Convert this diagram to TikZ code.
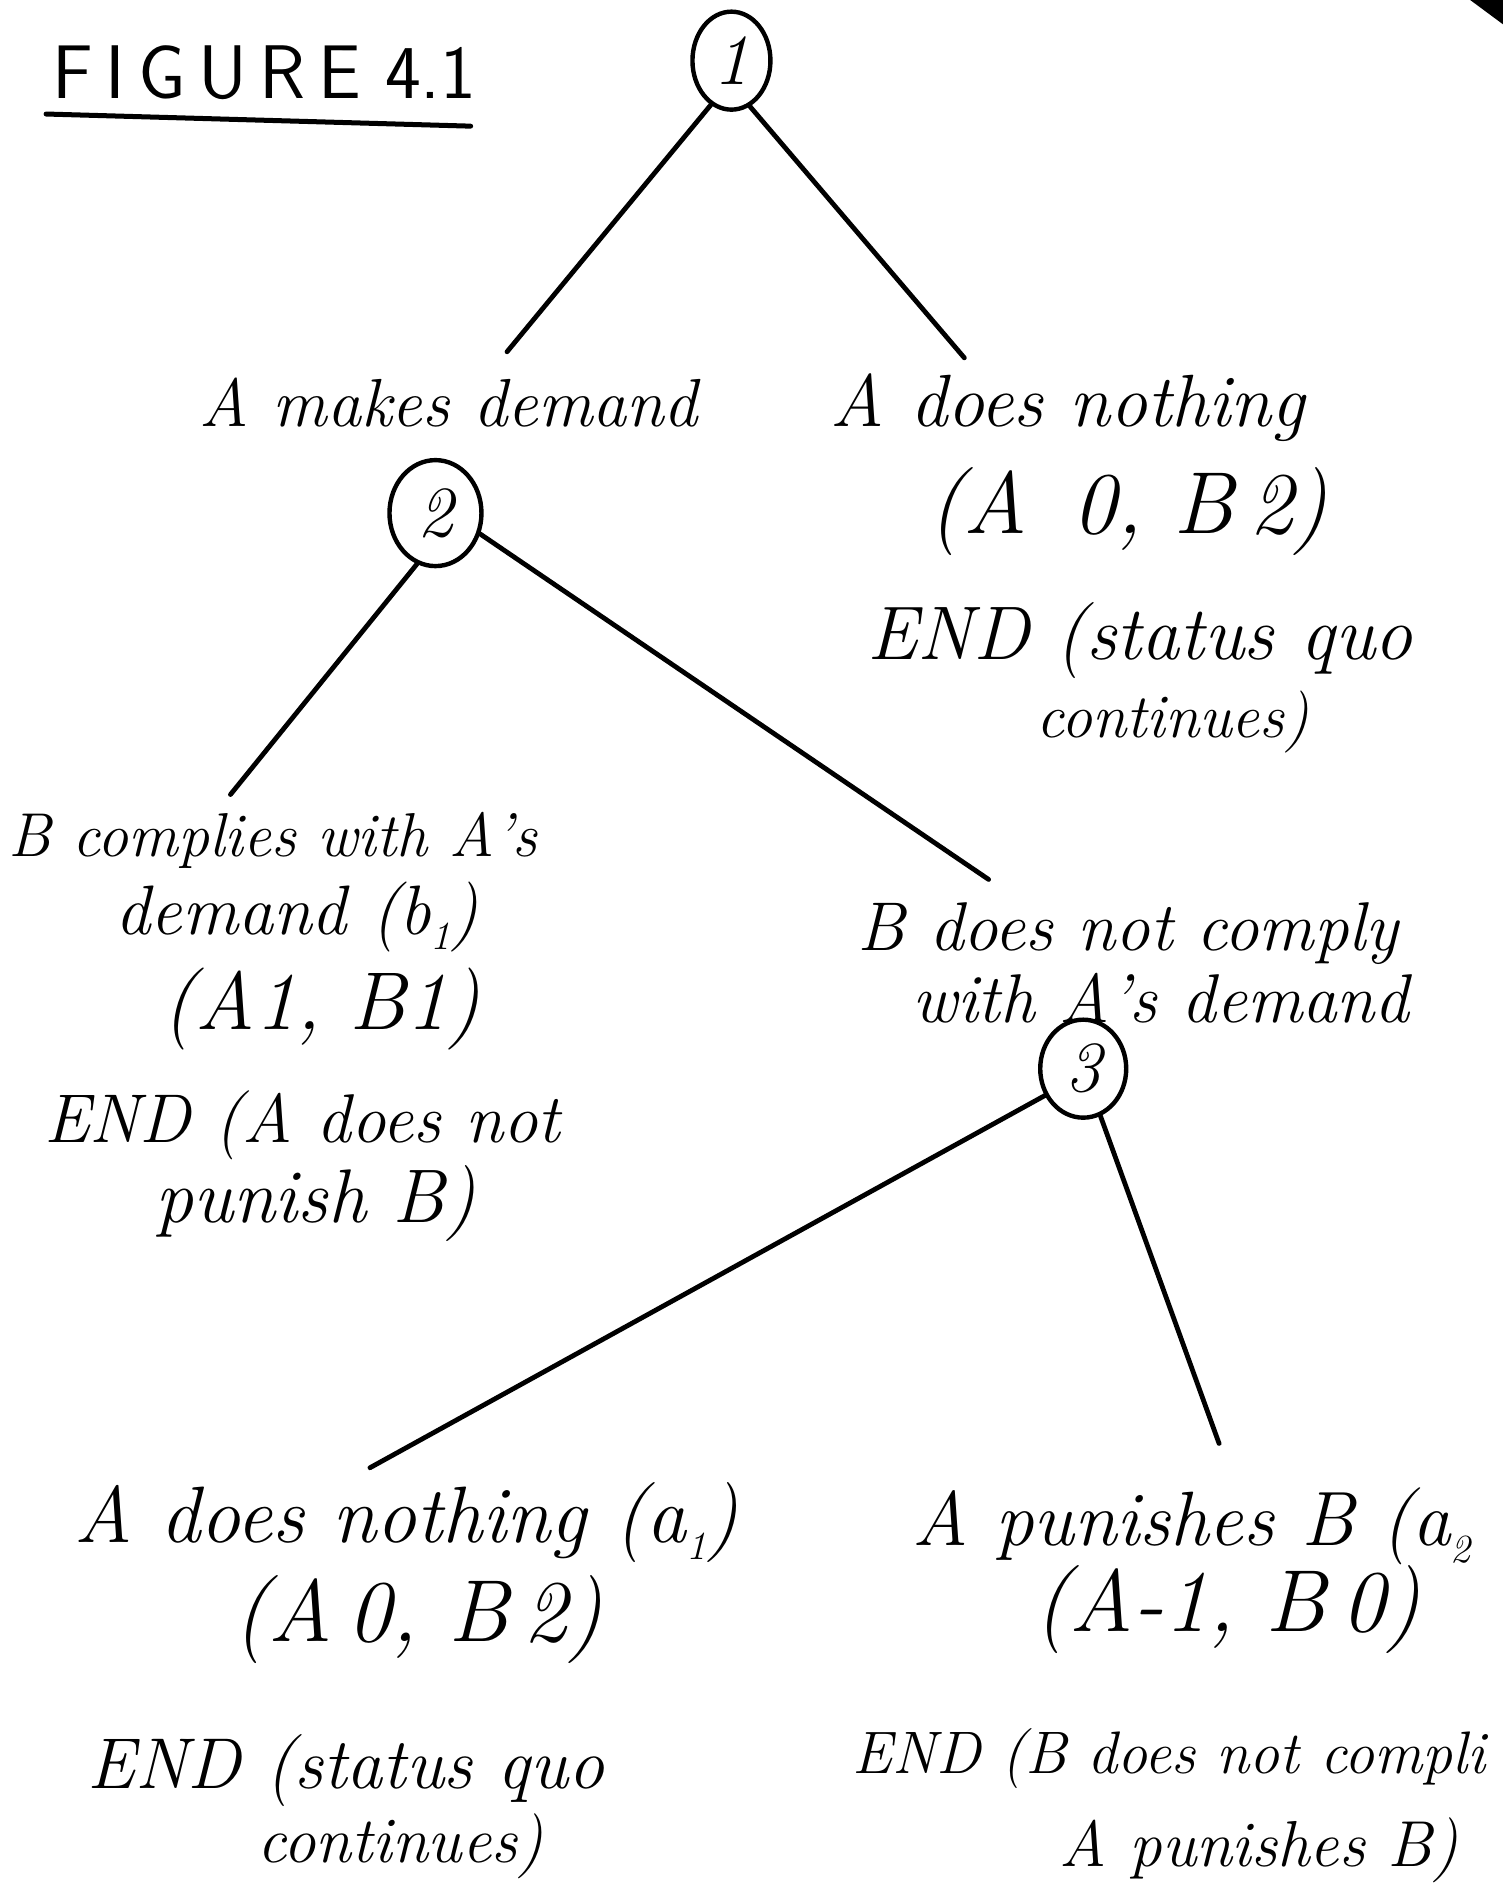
\documentclass[tikz,border=0pt]{standalone}
\usetikzlibrary{shapes.geometric}
\newcommand{\hsub}[1]{\raisebox{-0.22em}{\fontsize{40}{40}\selectfont #1}}
\begin{document}
\begin{tikzpicture}[x=1.2131pt,y=-1.2131pt,
  hand/.style={font=\fontsize{#1}{#1}\selectfont\itshape, inner sep=0pt, anchor=center},
  choice/.style={draw, ellipse, line width=4.4pt, inner sep=0pt, font=\fontsize{72}{74}\selectfont\itshape},
  branch/.style={line width=4.8pt, line cap=round}]
\useasboundingbox (0,0) rectangle (1239,1568);
% corner mark
\fill (1212,0) -- (1239,0) -- (1239,20) -- cycle;
% title
\node[font=\fontsize{76}{80}\selectfont\sffamily, inner sep=0pt] (title) at (218,60) {F\,I\,G\,U\,R\,E\ 4.1};
\coordinate (ul1) at (38,94);
\coordinate (ul2) at (388,104);
\draw[line width=5pt, line cap=round] (ul1) -- (ul2);
% decision nodes
\node[choice, minimum width=78pt, minimum height=98pt] (n1) at (603,50) {1};
\node[choice, minimum width=92pt, minimum height=106pt] (n2) at (359,423) {2};
\node[choice, minimum width=86pt, minimum height=98pt] (n3) at (893,881) {3};
% branch ends
\coordinate (e1l) at (418,290);
\coordinate (e1r) at (795,295);
\coordinate (e2l) at (190,655);
\coordinate (e2r) at (815,725);
\coordinate (e3l) at (305,1210);
\coordinate (e3r) at (1005,1190);
\draw[branch] (n1.245) -- (e1l);
\draw[branch] (n1.292) -- (e1r);
\draw[branch] (n2.250) -- (e2l);
\draw[branch] (n2.335) -- (e2r);
\draw[branch] (n3.215) -- (e3l);
\draw[branch] (n3.290) -- (e3r);
% level 1 labels
\node[hand=68] (t1) at (370,332) {A makes demand};
\node[hand=74] (t2) at (880,336) {A does nothing};
\node[hand=88] (t3) at (930,422) {(A\, 0, B\,2)};
\node[hand=76] (t4) at (940,528) {END (status quo};
\node[hand=62] (t5) at (967,595) {continues)};
% level 2 labels
\node[hand=62] (t6) at (225,693) {B complies with A's};
\node[hand=70] (t7) at (245,756) {demand (b\hsub{1})};
\node[hand=82] (t8) at (265,832) {(A1, B1)};
\node[hand=69] (t9) at (249,928) {END (A does not};
\node[hand=76] (t10) at (260,992) {punish B)};
\node[hand=69] (t11) at (930,770) {B does not comply};
\node[hand=69] (t12) at (957,823) {with A's demand};
% level 3 labels
\node[hand=80] (t13) at (335,1255) {A does nothing (a\hsub{1})};
\node[hand=88] (t14) at (345,1335) {(A\,0, B\,2)};
\node[hand=72] (t15) at (285,1460) {END (status quo};
\node[hand=65] (t16) at (330,1522) {continues)};
\node[hand=77, anchor=west] (t17) at (752,1258) {A punishes B (a\hsub{2}};
\node[hand=88] (t18) at (1012,1327) {(A-1, B\,0)};
\node[hand=60, anchor=west] (t19) at (703,1450) {END (B does not compli};
\node[hand=65] (t20) at (1038,1525) {A punishes B)};
\end{tikzpicture}
\end{document}
